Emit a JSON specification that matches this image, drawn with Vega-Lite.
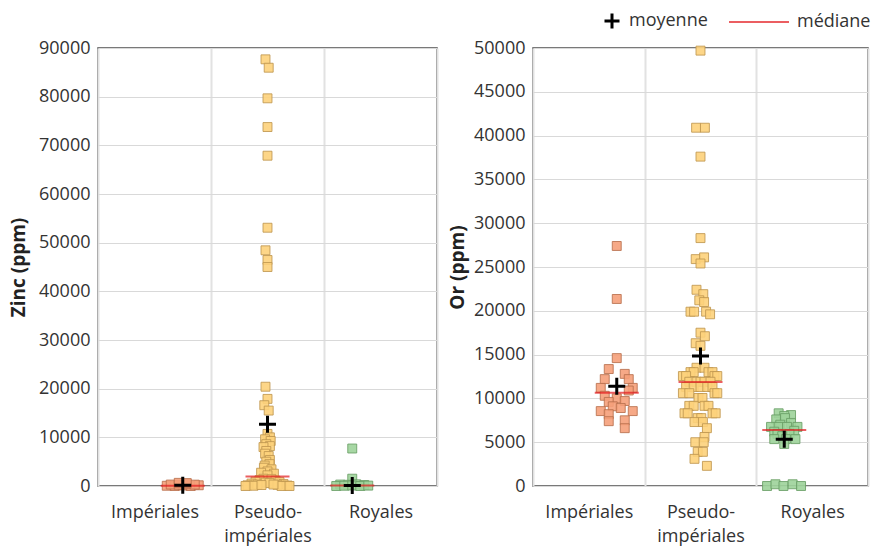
{
  "$schema": "https://vega.github.io/schema/vega-lite/v6.json",
  "padding": {"left": 8, "top": 11, "right": 4, "bottom": 0},
  "bounds": "flush",
  "spacing": 96,
  "config": {
    "font": "Open Sans",
    "view": {"stroke": "#4d4d4d", "strokeWidth": 1.5},
    "axis": {"labelFont": "Open Sans", "labelFontSize": 18, "labelColor": "#333333", "titleFont": "Open Sans", "titleFontSize": 19, "titleFontWeight": "bold", "titleColor": "#222222", "gridColor": "#d9d9d9", "domain": false, "ticks": false},
    "legend": {"labelFont": "Open Sans", "labelFontSize": 18, "labelColor": "#333333", "padding": 0}
  },
  "resolve": {"legend": {"shape": "independent", "color": "independent"}},
  "datasets": {
    "zinc": [
      {"groupe": "Impériales", "valeur": 50, "decalage": -4},
      {"groupe": "Impériales", "valeur": 0, "decalage": -2},
      {"groupe": "Impériales", "valeur": 100, "decalage": 0},
      {"groupe": "Impériales", "valeur": 0, "decalage": 2},
      {"groupe": "Impériales", "valeur": 150, "decalage": 4},
      {"groupe": "Impériales", "valeur": 300, "decalage": -3},
      {"groupe": "Impériales", "valeur": 250, "decalage": -1},
      {"groupe": "Impériales", "valeur": 350, "decalage": 1},
      {"groupe": "Impériales", "valeur": 280, "decalage": 3},
      {"groupe": "Impériales", "valeur": 650, "decalage": -1},
      {"groupe": "Impériales", "valeur": 600, "decalage": 1},
      {"groupe": "Pseudo-impériales", "valeur": 87670, "decalage": -0.5},
      {"groupe": "Pseudo-impériales", "valeur": 85950, "decalage": 0.3},
      {"groupe": "Pseudo-impériales", "valeur": 79660, "decalage": 0},
      {"groupe": "Pseudo-impériales", "valeur": 73760, "decalage": 0},
      {"groupe": "Pseudo-impériales", "valeur": 67870, "decalage": 0},
      {"groupe": "Pseudo-impériales", "valeur": 53070, "decalage": 0},
      {"groupe": "Pseudo-impériales", "valeur": 48430, "decalage": -0.5},
      {"groupe": "Pseudo-impériales", "valeur": 46440, "decalage": 0},
      {"groupe": "Pseudo-impériales", "valeur": 45000, "decalage": 0},
      {"groupe": "Pseudo-impériales", "valeur": 20400, "decalage": -0.5},
      {"groupe": "Pseudo-impériales", "valeur": 17900, "decalage": 0},
      {"groupe": "Pseudo-impériales", "valeur": 16600, "decalage": -0.8},
      {"groupe": "Pseudo-impériales", "valeur": 15500, "decalage": 0.3},
      {"groupe": "Pseudo-impériales", "valeur": 10700, "decalage": 0},
      {"groupe": "Pseudo-impériales", "valeur": 10000, "decalage": 0.6},
      {"groupe": "Pseudo-impériales", "valeur": 9600, "decalage": -0.6},
      {"groupe": "Pseudo-impériales", "valeur": 9250, "decalage": 0.8},
      {"groupe": "Pseudo-impériales", "valeur": 8600, "decalage": -0.3},
      {"groupe": "Pseudo-impériales", "valeur": 8200, "decalage": 0.6},
      {"groupe": "Pseudo-impériales", "valeur": 8000, "decalage": -1},
      {"groupe": "Pseudo-impériales", "valeur": 7200, "decalage": -0.3},
      {"groupe": "Pseudo-impériales", "valeur": 6640, "decalage": -0.6},
      {"groupe": "Pseudo-impériales", "valeur": 6160, "decalage": 0.3},
      {"groupe": "Pseudo-impériales", "valeur": 5350, "decalage": 0.6},
      {"groupe": "Pseudo-impériales", "valeur": 5000, "decalage": -0.3},
      {"groupe": "Pseudo-impériales", "valeur": 4500, "decalage": 0.5},
      {"groupe": "Pseudo-impériales", "valeur": 4200, "decalage": -0.7},
      {"groupe": "Pseudo-impériales", "valeur": 3760, "decalage": -0.9},
      {"groupe": "Pseudo-impériales", "valeur": 3430, "decalage": 1},
      {"groupe": "Pseudo-impériales", "valeur": 3000, "decalage": 0},
      {"groupe": "Pseudo-impériales", "valeur": 2730, "decalage": -1.6},
      {"groupe": "Pseudo-impériales", "valeur": 2530, "decalage": 1.6},
      {"groupe": "Pseudo-impériales", "valeur": 2200, "decalage": 0},
      {"groupe": "Pseudo-impériales", "valeur": 1500, "decalage": -1},
      {"groupe": "Pseudo-impériales", "valeur": 1400, "decalage": 1},
      {"groupe": "Pseudo-impériales", "valeur": 1200, "decalage": -2},
      {"groupe": "Pseudo-impériales", "valeur": 1100, "decalage": 2},
      {"groupe": "Pseudo-impériales", "valeur": 900, "decalage": -3},
      {"groupe": "Pseudo-impériales", "valeur": 800, "decalage": 3},
      {"groupe": "Pseudo-impériales", "valeur": 700, "decalage": -0.5},
      {"groupe": "Pseudo-impériales", "valeur": 600, "decalage": 0.5},
      {"groupe": "Pseudo-impériales", "valeur": 500, "decalage": -4},
      {"groupe": "Pseudo-impériales", "valeur": 400, "decalage": 4},
      {"groupe": "Pseudo-impériales", "valeur": 300, "decalage": -2.5},
      {"groupe": "Pseudo-impériales", "valeur": 250, "decalage": 2.5},
      {"groupe": "Pseudo-impériales", "valeur": 150, "decalage": -5},
      {"groupe": "Pseudo-impériales", "valeur": 100, "decalage": 5},
      {"groupe": "Pseudo-impériales", "valeur": 50, "decalage": -3.5},
      {"groupe": "Pseudo-impériales", "valeur": 0, "decalage": 3.5},
      {"groupe": "Pseudo-impériales", "valeur": 0, "decalage": -5.5},
      {"groupe": "Pseudo-impériales", "valeur": 0, "decalage": 5.5},
      {"groupe": "Pseudo-impériales", "valeur": 200, "decalage": -1.5},
      {"groupe": "Pseudo-impériales", "valeur": 300, "decalage": 1.5},
      {"groupe": "Royales", "valeur": 7700, "decalage": 0},
      {"groupe": "Royales", "valeur": 1500, "decalage": 0},
      {"groupe": "Royales", "valeur": 300, "decalage": -3},
      {"groupe": "Royales", "valeur": 250, "decalage": -1},
      {"groupe": "Royales", "valeur": 350, "decalage": 1},
      {"groupe": "Royales", "valeur": 200, "decalage": 3},
      {"groupe": "Royales", "valeur": 0, "decalage": -4},
      {"groupe": "Royales", "valeur": 50, "decalage": -2},
      {"groupe": "Royales", "valeur": 100, "decalage": 0},
      {"groupe": "Royales", "valeur": 0, "decalage": 2},
      {"groupe": "Royales", "valeur": 80, "decalage": 4}
    ],
    "zinc_stats": [
      {"groupe": "Impériales", "moyenne": 150, "mediane": 50},
      {"groupe": "Pseudo-impériales", "moyenne": 12700, "mediane": 1950},
      {"groupe": "Royales", "moyenne": 100, "mediane": 100}
    ],
    "or": [
      {"groupe": "Impériales", "valeur": 27400, "decalage": 0},
      {"groupe": "Impériales", "valeur": 21350, "decalage": 0},
      {"groupe": "Impériales", "valeur": 14600, "decalage": 0},
      {"groupe": "Impériales", "valeur": 13350, "decalage": -2},
      {"groupe": "Impériales", "valeur": 12800, "decalage": 2},
      {"groupe": "Impériales", "valeur": 12200, "decalage": -3},
      {"groupe": "Impériales", "valeur": 12200, "decalage": 3},
      {"groupe": "Impériales", "valeur": 11200, "decalage": -4},
      {"groupe": "Impériales", "valeur": 11200, "decalage": 4},
      {"groupe": "Impériales", "valeur": 10900, "decalage": 3},
      {"groupe": "Impériales", "valeur": 10300, "decalage": -3},
      {"groupe": "Impériales", "valeur": 10000, "decalage": 0},
      {"groupe": "Impériales", "valeur": 9700, "decalage": 2},
      {"groupe": "Impériales", "valeur": 9600, "decalage": -2},
      {"groupe": "Impériales", "valeur": 9100, "decalage": -1},
      {"groupe": "Impériales", "valeur": 8900, "decalage": 1},
      {"groupe": "Impériales", "valeur": 8550, "decalage": -4},
      {"groupe": "Impériales", "valeur": 8550, "decalage": 4},
      {"groupe": "Impériales", "valeur": 8200, "decalage": -2},
      {"groupe": "Impériales", "valeur": 7400, "decalage": -2},
      {"groupe": "Impériales", "valeur": 7500, "decalage": 2},
      {"groupe": "Impériales", "valeur": 6600, "decalage": 2},
      {"groupe": "Pseudo-impériales", "valeur": 49700, "decalage": 0},
      {"groupe": "Pseudo-impériales", "valeur": 40900, "decalage": -1.1},
      {"groupe": "Pseudo-impériales", "valeur": 40900, "decalage": 1.1},
      {"groupe": "Pseudo-impériales", "valeur": 37600, "decalage": 0},
      {"groupe": "Pseudo-impériales", "valeur": 28300, "decalage": 0},
      {"groupe": "Pseudo-impériales", "valeur": 25900, "decalage": -1.2},
      {"groupe": "Pseudo-impériales", "valeur": 26100, "decalage": 0.9},
      {"groupe": "Pseudo-impériales", "valeur": 25400, "decalage": 0},
      {"groupe": "Pseudo-impériales", "valeur": 22400, "decalage": -1},
      {"groupe": "Pseudo-impériales", "valeur": 21900, "decalage": 0.7},
      {"groupe": "Pseudo-impériales", "valeur": 21200, "decalage": -0.3},
      {"groupe": "Pseudo-impériales", "valeur": 21000, "decalage": 0.9},
      {"groupe": "Pseudo-impériales", "valeur": 19900, "decalage": -2.5},
      {"groupe": "Pseudo-impériales", "valeur": 19900, "decalage": -1.6},
      {"groupe": "Pseudo-impériales", "valeur": 19900, "decalage": 1.4},
      {"groupe": "Pseudo-impériales", "valeur": 19600, "decalage": 2.4},
      {"groupe": "Pseudo-impériales", "valeur": 17500, "decalage": 0},
      {"groupe": "Pseudo-impériales", "valeur": 17100, "decalage": 1.1},
      {"groupe": "Pseudo-impériales", "valeur": 16300, "decalage": -1.2},
      {"groupe": "Pseudo-impériales", "valeur": 16000, "decalage": 0},
      {"groupe": "Pseudo-impériales", "valeur": 13500, "decalage": -1},
      {"groupe": "Pseudo-impériales", "valeur": 13500, "decalage": 1},
      {"groupe": "Pseudo-impériales", "valeur": 13000, "decalage": -2.5},
      {"groupe": "Pseudo-impériales", "valeur": 13000, "decalage": -1.7},
      {"groupe": "Pseudo-impériales", "valeur": 13000, "decalage": 2},
      {"groupe": "Pseudo-impériales", "valeur": 13000, "decalage": 3},
      {"groupe": "Pseudo-impériales", "valeur": 12550, "decalage": -4.4},
      {"groupe": "Pseudo-impériales", "valeur": 12550, "decalage": -3.6},
      {"groupe": "Pseudo-impériales", "valeur": 12550, "decalage": 3.5},
      {"groupe": "Pseudo-impériales", "valeur": 12550, "decalage": 4.2},
      {"groupe": "Pseudo-impériales", "valeur": 11900, "decalage": -2.8},
      {"groupe": "Pseudo-impériales", "valeur": 11900, "decalage": -1},
      {"groupe": "Pseudo-impériales", "valeur": 11900, "decalage": 0},
      {"groupe": "Pseudo-impériales", "valeur": 11900, "decalage": 1},
      {"groupe": "Pseudo-impériales", "valeur": 11900, "decalage": 2.5},
      {"groupe": "Pseudo-impériales", "valeur": 11300, "decalage": -3.6},
      {"groupe": "Pseudo-impériales", "valeur": 11300, "decalage": -1.7},
      {"groupe": "Pseudo-impériales", "valeur": 11300, "decalage": 0},
      {"groupe": "Pseudo-impériales", "valeur": 11300, "decalage": 1.7},
      {"groupe": "Pseudo-impériales", "valeur": 11300, "decalage": 3},
      {"groupe": "Pseudo-impériales", "valeur": 10600, "decalage": -4.4},
      {"groupe": "Pseudo-impériales", "valeur": 10600, "decalage": -2.8},
      {"groupe": "Pseudo-impériales", "valeur": 10600, "decalage": 3.5},
      {"groupe": "Pseudo-impériales", "valeur": 10600, "decalage": 4.2},
      {"groupe": "Pseudo-impériales", "valeur": 10050, "decalage": -0.5},
      {"groupe": "Pseudo-impériales", "valeur": 10050, "decalage": 0.5},
      {"groupe": "Pseudo-impériales", "valeur": 9150, "decalage": -2.8},
      {"groupe": "Pseudo-impériales", "valeur": 9150, "decalage": -1.7},
      {"groupe": "Pseudo-impériales", "valeur": 9150, "decalage": 1},
      {"groupe": "Pseudo-impériales", "valeur": 9150, "decalage": 2},
      {"groupe": "Pseudo-impériales", "valeur": 8300, "decalage": -4},
      {"groupe": "Pseudo-impériales", "valeur": 8300, "decalage": -3.2},
      {"groupe": "Pseudo-impériales", "valeur": 8300, "decalage": 3},
      {"groupe": "Pseudo-impériales", "valeur": 8300, "decalage": 3.8},
      {"groupe": "Pseudo-impériales", "valeur": 7750, "decalage": -0.7},
      {"groupe": "Pseudo-impériales", "valeur": 7750, "decalage": 0.2},
      {"groupe": "Pseudo-impériales", "valeur": 7300, "decalage": -1.5},
      {"groupe": "Pseudo-impériales", "valeur": 7300, "decalage": 0.6},
      {"groupe": "Pseudo-impériales", "valeur": 6600, "decalage": 1.6},
      {"groupe": "Pseudo-impériales", "valeur": 5600, "decalage": 1},
      {"groupe": "Pseudo-impériales", "valeur": 5000, "decalage": -1.3},
      {"groupe": "Pseudo-impériales", "valeur": 5000, "decalage": 0.8},
      {"groupe": "Pseudo-impériales", "valeur": 3900, "decalage": -0.7},
      {"groupe": "Pseudo-impériales", "valeur": 3900, "decalage": 0.6},
      {"groupe": "Pseudo-impériales", "valeur": 3100, "decalage": -1.5},
      {"groupe": "Pseudo-impériales", "valeur": 2300, "decalage": 1.6},
      {"groupe": "Royales", "valeur": 8300, "decalage": -1.4},
      {"groupe": "Royales", "valeur": 8100, "decalage": 1.7},
      {"groupe": "Royales", "valeur": 8000, "decalage": 0},
      {"groupe": "Royales", "valeur": 7600, "decalage": -2},
      {"groupe": "Royales", "valeur": 7750, "decalage": 0.2},
      {"groupe": "Royales", "valeur": 7200, "decalage": 1.7},
      {"groupe": "Royales", "valeur": 7000, "decalage": -1},
      {"groupe": "Royales", "valeur": 6750, "decalage": -3.3},
      {"groupe": "Royales", "valeur": 6750, "decalage": -1.4},
      {"groupe": "Royales", "valeur": 6750, "decalage": 0.7},
      {"groupe": "Royales", "valeur": 6750, "decalage": 3.3},
      {"groupe": "Royales", "valeur": 6300, "decalage": 2.5},
      {"groupe": "Royales", "valeur": 6200, "decalage": -2.5},
      {"groupe": "Royales", "valeur": 5950, "decalage": -1.7},
      {"groupe": "Royales", "valeur": 5950, "decalage": 1.3},
      {"groupe": "Royales", "valeur": 5700, "decalage": -0.5},
      {"groupe": "Royales", "valeur": 5350, "decalage": -2.5},
      {"groupe": "Royales", "valeur": 5350, "decalage": 0.4},
      {"groupe": "Royales", "valeur": 5350, "decalage": 2.8},
      {"groupe": "Royales", "valeur": 4800, "decalage": 0},
      {"groupe": "Royales", "valeur": 0, "decalage": -4.3},
      {"groupe": "Royales", "valeur": 200, "decalage": -2.2},
      {"groupe": "Royales", "valeur": 0, "decalage": -0.2},
      {"groupe": "Royales", "valeur": 200, "decalage": 2.1},
      {"groupe": "Royales", "valeur": 0, "decalage": 4.2}
    ],
    "or_stats": [
      {"groupe": "Impériales", "moyenne": 11400, "mediane": 10650},
      {"groupe": "Pseudo-impériales", "moyenne": 14850, "mediane": 11870},
      {"groupe": "Royales", "moyenne": 5350, "mediane": 6400}
    ]
  },
  "hconcat": [
    {
      "width": 339,
      "height": 438,
      "resolve": {"scale": {"x": "independent"}, "axis": {"x": "independent"}},
      "layer": [
        {
          "data": {"name": "zinc_stats"},
          "mark": {"type": "point", "opacity": 0},
          "encoding": {
            "x": {"field": "groupe", "type": "nominal", "sort": ["Impériales", "Pseudo-impériales", "Royales"], "scale": {"type": "band", "paddingInner": 0, "paddingOuter": 0},
              "axis": {"title": null, "tickBand": "extent", "grid": true, "gridColor": "#e2e2e2", "gridWidth": 2, "labelAngle": 0, "labelPadding": 17, "labelLineHeight": 24, "labelExpr": "datum.value == 'Pseudo-impériales' ? ['Pseudo-', 'impériales'] : datum.value"}}
          }
        },
        {
          "layer": [
            {
              "data": {"name": "zinc"},
              "mark": {"type": "square", "size": 80, "strokeWidth": 1, "fillOpacity": 0.9, "strokeOpacity": 0.85, "filled": true},
              "encoding": {
                "x": {"field": "groupe", "type": "nominal", "sort": ["Impériales", "Pseudo-impériales", "Royales"], "scale": {"type": "point", "padding": 1}, "axis": null},
                "xOffset": {"field": "decalage", "type": "quantitative", "scale": {"domain": [-10, 10], "range": [-40, 40]}},
                "y": {"field": "valeur", "type": "quantitative", "scale": {"domain": [0, 90000], "nice": false},
                  "axis": {"title": "Zinc (ppm)", "values": [0, 10000, 20000, 30000, 40000, 50000, 60000, 70000, 80000, 90000], "format": "d", "labelPadding": 8, "titlePadding": 10, "grid": true}},
                "fill": {"field": "groupe", "type": "nominal", "scale": {"domain": ["Impériales", "Pseudo-impériales", "Royales"], "range": ["#f5a07a", "#fdd17b", "#9dd39a"]}, "legend": null},
                "stroke": {"field": "groupe", "type": "nominal", "scale": {"domain": ["Impériales", "Pseudo-impériales", "Royales"], "range": ["#b8704e", "#c09650", "#6a9f66"]}, "legend": null}
              }
            },
            {
              "data": {"name": "zinc_stats"},
              "mark": {"type": "tick", "orient": "horizontal", "size": 44, "thickness": 2, "color": "#e3191e"},
              "encoding": {
                "x": {"field": "groupe", "type": "nominal", "sort": ["Impériales", "Pseudo-impériales", "Royales"], "axis": null},
                "y": {"field": "mediane", "type": "quantitative"}
              }
            },
            {
              "data": {"name": "zinc_stats"},
              "mark": {"type": "point", "shape": "M-1,0H1M0,-1V1", "size": 289, "filled": false, "stroke": "black", "strokeWidth": 3, "opacity": 1},
              "encoding": {
                "x": {"field": "groupe", "type": "nominal", "sort": ["Impériales", "Pseudo-impériales", "Royales"], "axis": null},
                "y": {"field": "moyenne", "type": "quantitative"}
              }
            }
          ]
        }
      ]
    },
    {
      "width": 335,
      "height": 438,
      "resolve": {"scale": {"x": "independent"}, "axis": {"x": "independent"}},
      "layer": [
        {
          "data": {"name": "or_stats"},
          "mark": {"type": "point", "opacity": 0},
          "encoding": {
            "x": {"field": "groupe", "type": "nominal", "sort": ["Impériales", "Pseudo-impériales", "Royales"], "scale": {"type": "band", "paddingInner": 0, "paddingOuter": 0},
              "axis": {"title": null, "tickBand": "extent", "grid": true, "gridColor": "#e2e2e2", "gridWidth": 2, "labelAngle": 0, "labelPadding": 17, "labelLineHeight": 24, "labelExpr": "datum.value == 'Pseudo-impériales' ? ['Pseudo-', 'impériales'] : datum.value"}}
          }
        },
        {
          "layer": [
            {
              "data": {"name": "or"},
              "mark": {"type": "square", "size": 80, "strokeWidth": 1, "fillOpacity": 0.9, "strokeOpacity": 0.85, "filled": true},
              "encoding": {
                "x": {"field": "groupe", "type": "nominal", "sort": ["Impériales", "Pseudo-impériales", "Royales"], "scale": {"type": "point", "padding": 1}, "axis": null},
                "xOffset": {"field": "decalage", "type": "quantitative", "scale": {"domain": [-10, 10], "range": [-40, 40]}},
                "y": {"field": "valeur", "type": "quantitative", "scale": {"domain": [0, 50000], "nice": false},
                  "axis": {"title": "Or (ppm)", "values": [0, 5000, 10000, 15000, 20000, 25000, 30000, 35000, 40000, 45000, 50000], "format": "d", "labelPadding": 8, "titlePadding": 6, "grid": true}},
                "fill": {"field": "groupe", "type": "nominal", "scale": {"domain": ["Impériales", "Pseudo-impériales", "Royales"], "range": ["#f5a07a", "#fdd17b", "#9dd39a"]}, "legend": null},
                "stroke": {"field": "groupe", "type": "nominal", "scale": {"domain": ["Impériales", "Pseudo-impériales", "Royales"], "range": ["#b8704e", "#c09650", "#6a9f66"]}, "legend": null}
              }
            },
            {
              "data": {"name": "or_stats"},
              "mark": {"type": "tick", "orient": "horizontal", "size": 44, "thickness": 2},
              "encoding": {
                "x": {"field": "groupe", "type": "nominal", "sort": ["Impériales", "Pseudo-impériales", "Royales"], "axis": null},
                "y": {"field": "mediane", "type": "quantitative"},
                "color": {"datum": "médiane", "scale": {"range": ["#e3191e"]},
                  "legend": {"orient": "none", "legendX": 216, "legendY": -36, "title": null, "symbolType": "M-3,-0.1H3V0.1H-3Z", "symbolSize": 400, "symbolStrokeWidth": 0, "labelOffset": 28}}
              }
            },
            {
              "data": {"name": "or_stats"},
              "mark": {"type": "point", "size": 289, "filled": false, "stroke": "black", "strokeWidth": 3, "opacity": 1},
              "encoding": {
                "x": {"field": "groupe", "type": "nominal", "sort": ["Impériales", "Pseudo-impériales", "Royales"], "axis": null},
                "y": {"field": "moyenne", "type": "quantitative"},
                "shape": {"datum": "moyenne", "scale": {"range": ["M-1,0H1M0,-1V1"]},
                  "legend": {"orient": "none", "legendX": 70, "legendY": -36, "title": null, "symbolSize": 225, "symbolStrokeWidth": 3, "symbolStrokeColor": "black", "symbolFillColor": "transparent", "labelOffset": 8}}
              }
            }
          ]
        }
      ]
    }
  ]
}
